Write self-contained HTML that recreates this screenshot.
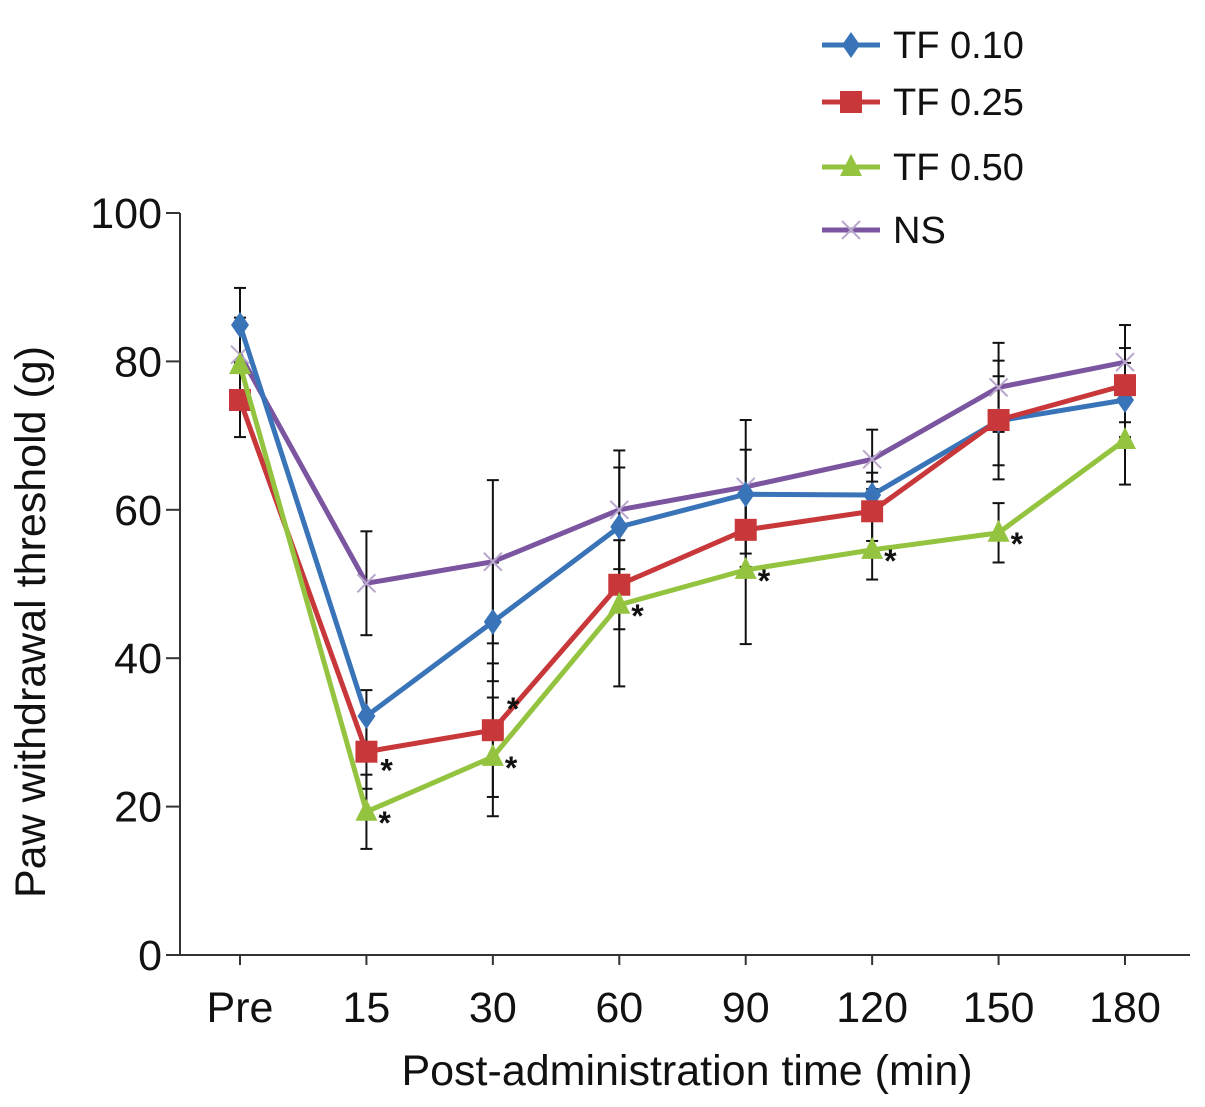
<!DOCTYPE html>
<html><head><meta charset="utf-8"><style>
html,body{margin:0;padding:0;background:#fff}
svg{display:block;font-family:"Liberation Sans",Arial,sans-serif}
</style></head><body>
<svg id="chart" width="1205" height="1107" viewBox="0 0 1205 1107">
<g id="axes"></g><g id="series"></g><g id="legend"></g>
</svg>
<script>
const categories=["Pre","15","30","60","90","120","150","180"];
const yTicks=[0,20,40,60,80,100];
const seriesNames=["TF 0.10","TF 0.25","TF 0.50","NS"];
const tf010=[84.9,32.2,44.9,57.7,62.1,62.0,72.0,74.8];
const tf025=[74.8,27.4,30.3,49.9,57.3,59.8,72.1,76.8];
const tf050=[79.5,19.3,26.7,47.2,51.9,54.6,56.9,69.4];
const ns=[80.9,50.1,53.0,60.0,63.1,66.8,76.5,79.9];
const err010=[5,3.5,8,8,6,3,6,5];
const err025=[5,5,9,6,5,4,8,5];
const err050=[5,5,8,11,10,4,4,6];
const errNS=[5,7,11,8,9,4,6,5];
const stars025=[1,2];
const stars050=[1,2,3,4,5,6];
const NS="http://www.w3.org/2000/svg";
function xS(i){return 240+i*(1125-240)/7;}
function yS(v){return 955-v*7.42;}
function mk(tag,attrs,parent,name){const e=document.createElementNS(NS,tag);for(const k in attrs)e.setAttribute(k,attrs[k]);


parent.appendChild(e);return e;}
const axes=document.getElementById('axes'),sg=document.getElementById('series'),lg=document.getElementById('legend');
mk('line',{x1:180,y1:213,x2:180,y2:955,stroke:'#333','stroke-width':2},axes,'y-axis');
mk('line',{x1:180,y1:955,x2:1190,y2:955,stroke:'#333','stroke-width':2},axes,'x-axis');
yTicks.forEach(t=>{mk('line',{x1:166,y1:yS(t),x2:180,y2:yS(t),stroke:'#333','stroke-width':2},axes,'y-tick');
const tx=mk('text',{x:162,y:yS(t)+15,'text-anchor':'end','font-size':43,fill:'#111'},axes,'y-tick-label');tx.textContent=t;});
categories.forEach((c,i)=>{mk('line',{x1:xS(i),y1:955,x2:xS(i),y2:965,stroke:'#333','stroke-width':2},axes,'x-tick');
const tx=mk('text',{x:xS(i),y:1022,'text-anchor':'middle','font-size':43,fill:'#111'},axes,'x-tick-label');tx.textContent=c;});
let t=mk('text',{x:687,y:1085,'text-anchor':'middle','font-size':43,fill:'#111'},axes,'x-axis-title');t.textContent='Post-administration time (min)';
t=mk('text',{x:0,y:0,'text-anchor':'middle','font-size':43,fill:'#111',transform:'translate(45,622) rotate(-90)'},axes,'y-axis-title');t.textContent='Paw withdrawal threshold (g)';
const colors=['#3a74b8','#c8383a','#93c33f','#7b55a0'];
const data=[tf010,tf025,tf050,ns],errs=[err010,err025,err050,errNS];
function marker(k,x,y,p,name){const c=colors[k];
if(k===0)mk('polygon',{points:`${x},${y-13} ${x+9},${y} ${x},${y+13} ${x-9},${y}`,fill:c},p,name);
else if(k===1)mk('rect',{x:x-11,y:y-11,width:22,height:22,fill:c},p,name);
else if(k===2)mk('polygon',{points:`${x},${y-13} ${x+11},${y+9} ${x-11},${y+9}`,fill:c},p,name);
else{mk('path',{d:`M${x-9} ${y-9}L${x+9} ${y+9}M${x+9} ${y-9}L${x-9} ${y+9}`,stroke:'#b9a8cc','stroke-width':2},p,name);}}
[3,0,1,2].forEach(k=>{const d=data[k];
errs[k].forEach((e,i)=>{const x=xS(i);
mk('line',{x1:x,y1:yS(d[i]+e),x2:x,y2:yS(d[i]-e),stroke:'#111','stroke-width':2},sg,'error-bar');
mk('line',{x1:x-6,y1:yS(d[i]+e),x2:x+6,y2:yS(d[i]+e),stroke:'#111','stroke-width':2},sg,'error-cap');
mk('line',{x1:x-6,y1:yS(d[i]-e),x2:x+6,y2:yS(d[i]-e),stroke:'#111','stroke-width':2},sg,'error-cap');});});
[3,0,1,2].forEach(k=>{const d=data[k];
mk('polyline',{points:d.map((v,i)=>xS(i)+','+yS(v)).join(' '),fill:'none',stroke:colors[k],'stroke-width':5},sg,'series-line-'+k);
d.forEach((v,i)=>marker(k,xS(i),yS(v),sg,'series-point-'+k));});
stars025.forEach(i=>{const s=mk('text',{x:xS(i)+14,y:yS(tf025[i])+(i===1?30:-10),'font-size':32,'font-weight':'bold',fill:'#111'},sg,'significance-star');s.textContent='*';});
stars050.forEach(i=>{const s=mk('text',{x:xS(i)+12,y:yS(tf050[i])+22,'font-size':32,'font-weight':'bold',fill:'#111'},sg,'significance-star');s.textContent='*';});
const ly=[45,102,167,230];
seriesNames.forEach((n,k)=>{const g=mk('g',{},lg,'legend-entry');
mk('line',{x1:822,y1:ly[k],x2:880,y2:ly[k],stroke:colors[k],'stroke-width':5},g,'legend-line');
marker(k,851,ly[k],g,'legend-marker');
const tx=mk('text',{x:893,y:ly[k]+13,'font-size':38,fill:'#111'},g,'legend-label');tx.textContent=n;});
</script>
</body></html>
